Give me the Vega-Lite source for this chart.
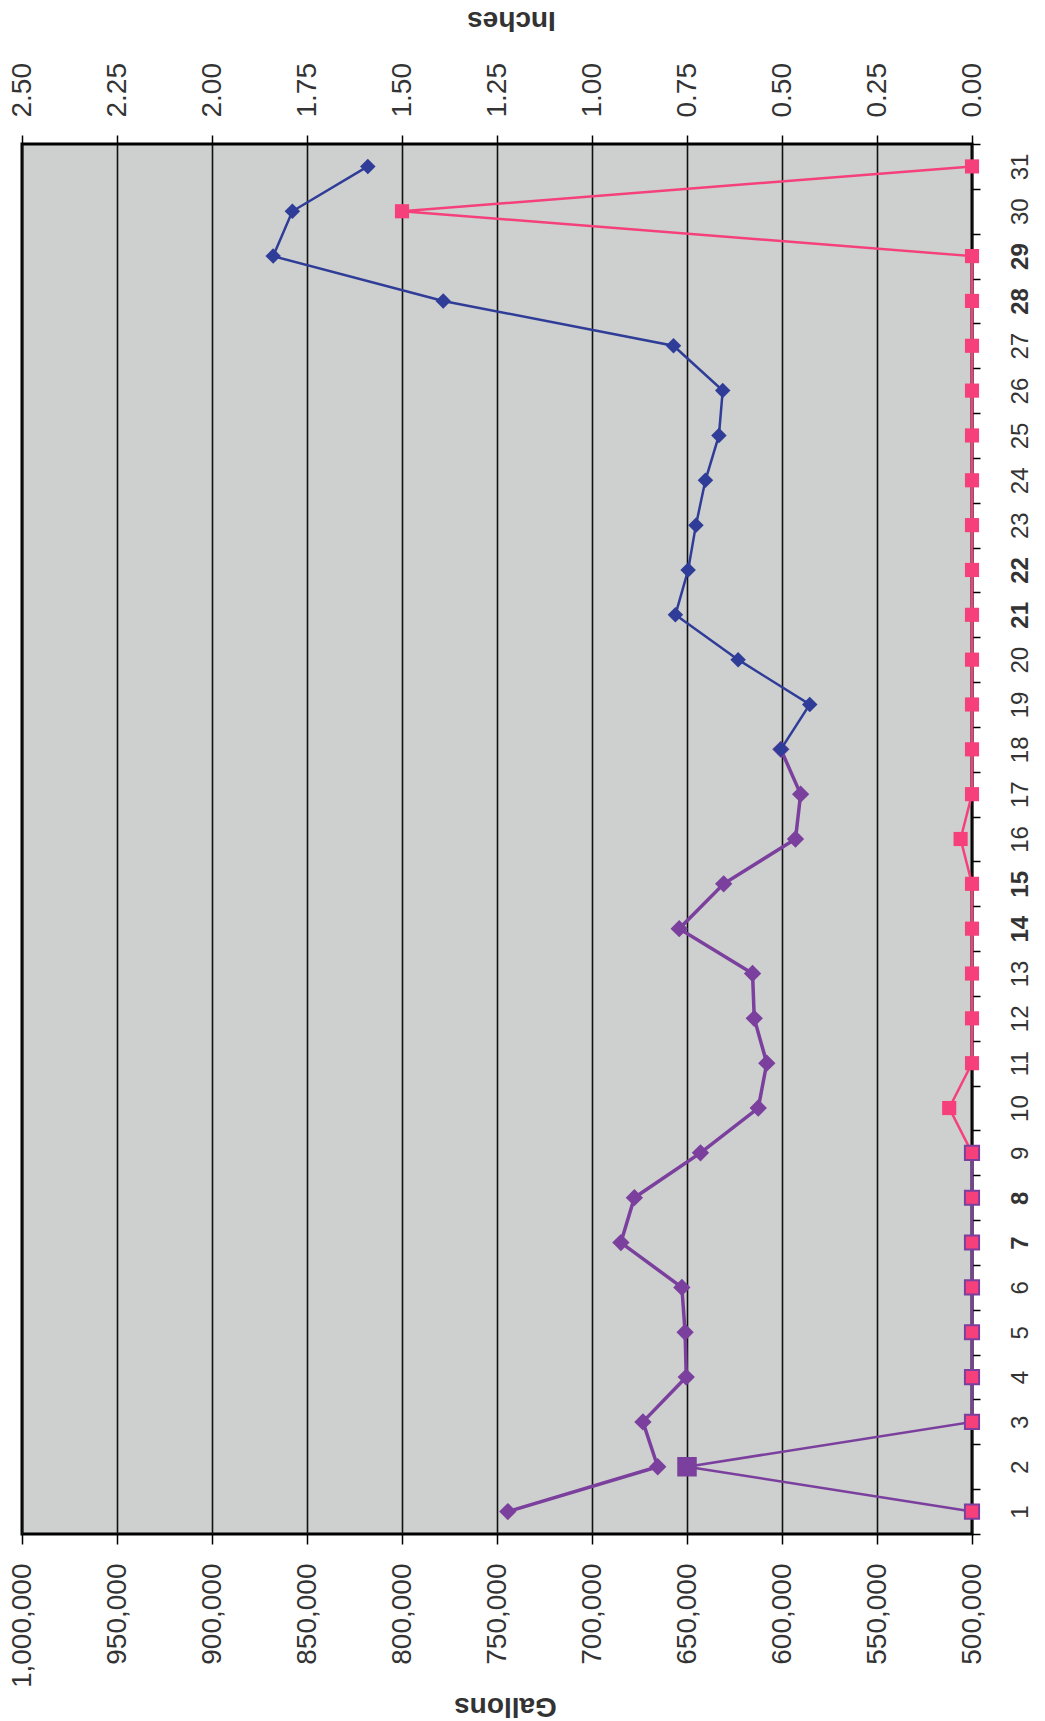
{
  "$schema": "https://vega.github.io/schema/vega-lite/v6.json",
  "autosize": {"type": "none"},
  "padding": {"left": 22, "top": 144, "right": 73, "bottom": 187},
  "width": 950,
  "height": 1390,
  "background": "white",
  "config": {
    "view": {"fill": "#cdd0ce", "stroke": "black", "strokeWidth": 3},
    "font": "Liberation Sans",
    "axis": {"domain": false, "tickColor": "black", "tickWidth": 1.5, "labelColor": "#333333", "titleColor": "#333333", "labelFont": "Liberation Sans", "titleFont": "Liberation Sans"}
  },
  "datasets": {
    "gallons": [
      {"day": 1, "gallons": 744300, "series": "early"},
      {"day": 2, "gallons": 665400, "series": "early"},
      {"day": 3, "gallons": 673200, "series": "early"},
      {"day": 4, "gallons": 650400, "series": "early"},
      {"day": 5, "gallons": 651000, "series": "early"},
      {"day": 6, "gallons": 652700, "series": "early"},
      {"day": 7, "gallons": 684800, "series": "early"},
      {"day": 8, "gallons": 677700, "series": "early"},
      {"day": 9, "gallons": 642900, "series": "early"},
      {"day": 10, "gallons": 612500, "series": "early"},
      {"day": 11, "gallons": 608000, "series": "early"},
      {"day": 12, "gallons": 614600, "series": "early"},
      {"day": 13, "gallons": 615500, "series": "early"},
      {"day": 14, "gallons": 654100, "series": "early"},
      {"day": 15, "gallons": 630700, "series": "early"},
      {"day": 16, "gallons": 592900, "series": "early"},
      {"day": 17, "gallons": 590200, "series": "early"},
      {"day": 18, "gallons": 600600, "series": "early"},
      {"day": 18, "gallons": 600600, "series": "late"},
      {"day": 19, "gallons": 585400, "series": "late"},
      {"day": 20, "gallons": 623100, "series": "late"},
      {"day": 21, "gallons": 656100, "series": "late"},
      {"day": 22, "gallons": 649400, "series": "late"},
      {"day": 23, "gallons": 645300, "series": "late"},
      {"day": 24, "gallons": 640300, "series": "late"},
      {"day": 25, "gallons": 633200, "series": "late"},
      {"day": 26, "gallons": 631200, "series": "late"},
      {"day": 27, "gallons": 657100, "series": "late"},
      {"day": 28, "gallons": 778300, "series": "late"},
      {"day": 29, "gallons": 867800, "series": "late"},
      {"day": 30, "gallons": 857700, "series": "late"},
      {"day": 31, "gallons": 818000, "series": "late"}
    ],
    "rain": [
      {"day": 1, "inches": 0, "series": "early"},
      {"day": 2, "inches": 0.75, "series": "early"},
      {"day": 3, "inches": 0, "series": "early"},
      {"day": 4, "inches": 0, "series": "early"},
      {"day": 5, "inches": 0, "series": "early"},
      {"day": 6, "inches": 0, "series": "early"},
      {"day": 7, "inches": 0, "series": "early"},
      {"day": 8, "inches": 0, "series": "early"},
      {"day": 9, "inches": 0, "series": "early"},
      {"day": 9, "inches": 0, "series": "late"},
      {"day": 10, "inches": 0.06, "series": "late"},
      {"day": 11, "inches": 0, "series": "late"},
      {"day": 12, "inches": 0, "series": "late"},
      {"day": 13, "inches": 0, "series": "late"},
      {"day": 14, "inches": 0, "series": "late"},
      {"day": 15, "inches": 0, "series": "late"},
      {"day": 16, "inches": 0.03, "series": "late"},
      {"day": 17, "inches": 0, "series": "late"},
      {"day": 18, "inches": 0, "series": "late"},
      {"day": 19, "inches": 0, "series": "late"},
      {"day": 20, "inches": 0, "series": "late"},
      {"day": 21, "inches": 0, "series": "late"},
      {"day": 22, "inches": 0, "series": "late"},
      {"day": 23, "inches": 0, "series": "late"},
      {"day": 24, "inches": 0, "series": "late"},
      {"day": 25, "inches": 0, "series": "late"},
      {"day": 26, "inches": 0, "series": "late"},
      {"day": 27, "inches": 0, "series": "late"},
      {"day": 28, "inches": 0, "series": "late"},
      {"day": 29, "inches": 0, "series": "late"},
      {"day": 30, "inches": 1.5, "series": "late"},
      {"day": 31, "inches": 0, "series": "late"}
    ]
  },
  "encoding": {
    "y": {
      "field": "day",
      "type": "ordinal",
      "scale": {"type": "band", "paddingInner": 0, "paddingOuter": 0, "domain": [31,30,29,28,27,26,25,24,23,22,21,20,19,18,17,16,15,14,13,12,11,10,9,8,7,6,5,4,3,2,1]},
      "axis": {
        "orient": "right",
        "title": null,
        "tickBand": "extent",
        "tickSize": 8,
        "labelAngle": -90,
        "labelAlign": "center",
        "labelBaseline": "top",
        "labelPadding": 28,
        "labelFontSize": 24,
        "labelFontWeight": {"condition": {"test": "indexof([7,8,14,15,21,22,28,29], datum.value) >= 0", "value": "bold"}, "value": "normal"},
        "grid": false
      }
    }
  },
  "layer": [
    {
      "data": {"name": "gallons"},
      "encoding": {
        "x": {
          "field": "gallons",
          "type": "quantitative",
          "scale": {"domain": [500000, 1000000], "reverse": true, "nice": false, "zero": false},
          "axis": {
            "orient": "bottom",
            "values": [500000, 550000, 600000, 650000, 700000, 750000, 800000, 850000, 900000, 950000, 1000000],
            "format": ",.0f",
            "grid": true,
            "gridColor": "#111111",
            "gridWidth": 1.6,
            "gridOpacity": 1,
            "tickSize": 10,
            "labelAngle": -90,
            "labelAlign": "right",
            "labelBaseline": "middle",
            "labelPadding": 19,
            "labelFontSize": 28,
            "title": "Gallons",
            "titleFontSize": 28,
            "titleFontWeight": "bold",
            "titleAngle": 180,
            "titleBaseline": "middle",
            "titleAlign": "center",
            "titleY": 171,
            "titleX": 483
          }
        }
      },
      "layer": [
        {
          "transform": [{"filter": "datum.series === 'early'"}],
          "mark": {"type": "line", "color": "#7b3f9e", "strokeWidth": 3.5, "point": {"shape": "diamond", "size": 300, "filled": true, "color": "#7b3f9e"}}
        },
        {
          "transform": [{"filter": "datum.series === 'late'"}],
          "mark": {"type": "line", "color": "#2f3c98", "strokeWidth": 2.5, "point": {"shape": "diamond", "size": 240, "filled": true, "color": "#2f3c98"}}
        }
      ]
    },
    {
      "data": {"name": "rain"},
      "encoding": {
        "x": {
          "field": "inches",
          "type": "quantitative",
          "scale": {"domain": [0, 2.5], "reverse": true, "nice": false},
          "axis": {
            "orient": "top",
            "values": [0, 0.25, 0.5, 0.75, 1, 1.25, 1.5, 1.75, 2, 2.25, 2.5],
            "format": ".2f",
            "grid": false,
            "tickSize": 9,
            "labelAngle": -90,
            "labelAlign": "left",
            "labelBaseline": "middle",
            "labelPadding": 18,
            "labelFontSize": 28,
            "title": "Inches",
            "titleFontSize": 28,
            "titleFontWeight": "bold",
            "titleAngle": 180,
            "titleBaseline": "middle",
            "titleAlign": "center",
            "titleY": -125,
            "titleX": 489
          }
        }
      },
      "layer": [
        {
          "transform": [{"filter": "datum.series === 'late'"}],
          "mark": {"type": "line", "color": "#f5407c", "strokeWidth": 2.5, "point": {"shape": "square", "size": 200, "filled": true, "color": "#f5407c"}}
        },
        {
          "transform": [{"filter": "datum.series === 'early'"}],
          "mark": {"type": "line", "color": "#7b3f9e", "strokeWidth": 2.5, "point": {"shape": "square", "size": 200, "filled": true, "fill": "#f5407c", "stroke": "#7b3f9e", "strokeWidth": 2}}
        },
        {
          "transform": [{"filter": "datum.series === 'early' && datum.inches > 0"}],
          "mark": {"type": "point", "shape": "square", "size": 380, "filled": true, "color": "#7b3f9e", "opacity": 1}
        }
      ]
    }
  ],
  "resolve": {"scale": {"x": "independent"}, "axis": {"x": "independent"}}
}
